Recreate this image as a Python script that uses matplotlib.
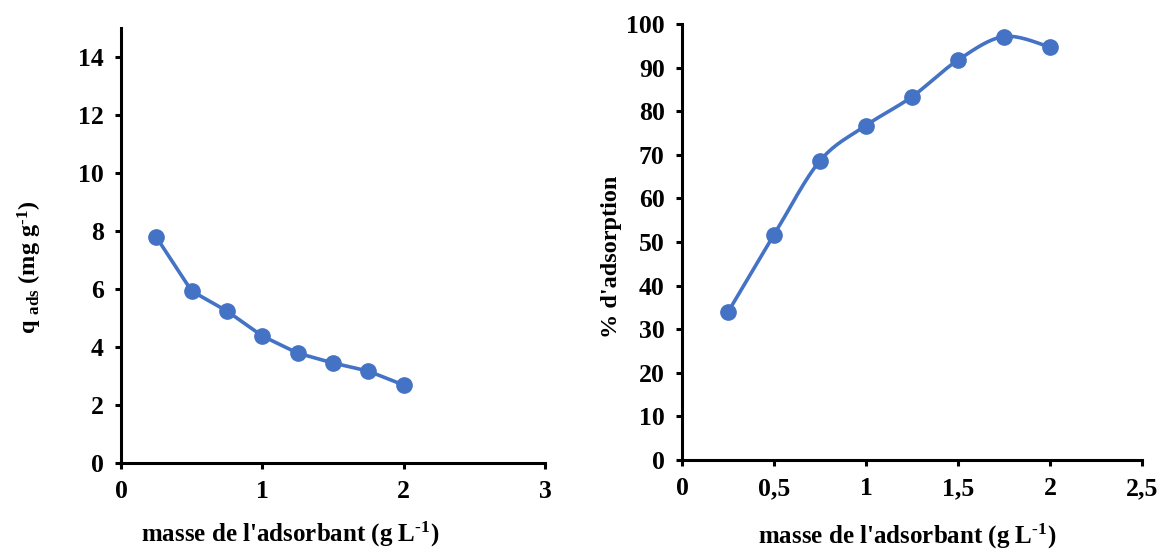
import numpy as np
import matplotlib
matplotlib.use("Agg")
from matplotlib import pyplot as plt
from matplotlib.ticker import FuncFormatter

plt.rcParams['font.family'] = ['Liberation Serif', 'DejaVu Serif']
plt.rcParams['font.weight'] = 'bold'
plt.rcParams['mathtext.fontset'] = 'custom'
plt.rcParams['mathtext.rm'] = 'Liberation Serif:bold'
plt.rcParams['mathtext.bf'] = 'Liberation Serif:bold'
plt.rcParams['mathtext.default'] = 'bf'

# adsorbent dose (g/L)
masse = [0.25, 0.5, 0.75, 1.0, 1.25, 1.5, 1.75, 2.0]
# adsorbed quantity (mg/g)
q_ads = [7.79, 5.93, 5.24, 4.38, 3.79, 3.45, 3.17, 2.69]
# removal percentage
pct_ads = [33.9, 51.6, 68.6, 76.7, 83.3, 91.7, 97.1, 94.7]

BLUE = '#4472C4'


def smooth(x, y, n=30):
    # bezier smoothing between consecutive points (tension 1/6)
    p = np.column_stack([x, y]).astype(float)
    pts = np.vstack([p[0], p, p[-1]])
    t = np.linspace(0, 1, n)[:, None]
    out = []
    for i in range(1, len(pts) - 2):
        p0, p3 = pts[i], pts[i + 1]
        c1 = p0 + (pts[i + 1] - pts[i - 1]) / 6
        c2 = p3 - (pts[i + 2] - pts[i]) / 6
        seg = ((1 - t) ** 3) * p0 + 3 * ((1 - t) ** 2) * t * c1 + 3 * (1 - t) * t ** 2 * c2 + t ** 3 * p3
        out.append(seg if i == 1 else seg[1:])
    s = np.vstack(out)
    return s[:, 0], s[:, 1]


def style(ax):
    for side in ['top', 'right']:
        ax.spines[side].set_visible(False)
    for side in ['left', 'bottom']:
        ax.spines[side].set_linewidth(2.2)
    ax.tick_params(direction='out', length=4.5, width=2.2, labelsize=18.5, pad=8)
    for lab in ax.get_xticklabels() + ax.get_yticklabels():
        lab.set_fontweight('bold')


xlab = "masse de l'adsorbant (g L$^{\u2010 1}$)"

fig = plt.figure(figsize=(11.59, 5.52), dpi=100)

ax1 = fig.add_axes([0.1044, 0.1612, 0.3658, 0.788])
ax1.plot(masse, q_ads, color=BLUE, lw=2.6, marker='o', ms=11, zorder=3)
ax1.set_xlim(0, 3)
ax1.set_ylim(0, 15)
ax1.set_xticks([0, 1, 2, 3])
ax1.set_yticks(np.arange(0, 15, 2))
style(ax1)
ax1.set_xlabel(xlab, fontsize=18, fontweight='bold')
ax1.set_ylabel("q $_{ads}$ (mg g$^{\u2010 1}$)", fontsize=17.5, fontweight='bold')
ax1.xaxis.set_label_coords(0.40, -0.13)
ax1.yaxis.set_label_coords(-0.182, 0.45)

ax2 = fig.add_axes([0.5884, 0.1667, 0.3969, 0.790])
sx, sy = smooth(masse, pct_ads)
ax2.plot(sx, sy, color=BLUE, lw=2.6, zorder=2)
ax2.plot(masse, pct_ads, ls='none', marker='o', ms=11, color=BLUE, zorder=3)
ax2.set_xlim(0, 2.5)
ax2.set_ylim(0, 100)
ax2.set_xticks(np.arange(0, 2.51, 0.5))
ax2.set_yticks(np.arange(0, 101, 10))
ax2.xaxis.set_major_formatter(FuncFormatter(lambda v, p: ('%g' % v).replace('.', ',')))
style(ax2)
ax2.set_xlabel(xlab, fontsize=18, fontweight='bold')
ax2.set_ylabel("% d'adsorption", fontsize=17.5, fontweight='bold')
ax2.xaxis.set_label_coords(0.49, -0.143)
ax2.yaxis.set_label_coords(-0.13, 0.466)

fig.savefig('out.png', dpi=100)
